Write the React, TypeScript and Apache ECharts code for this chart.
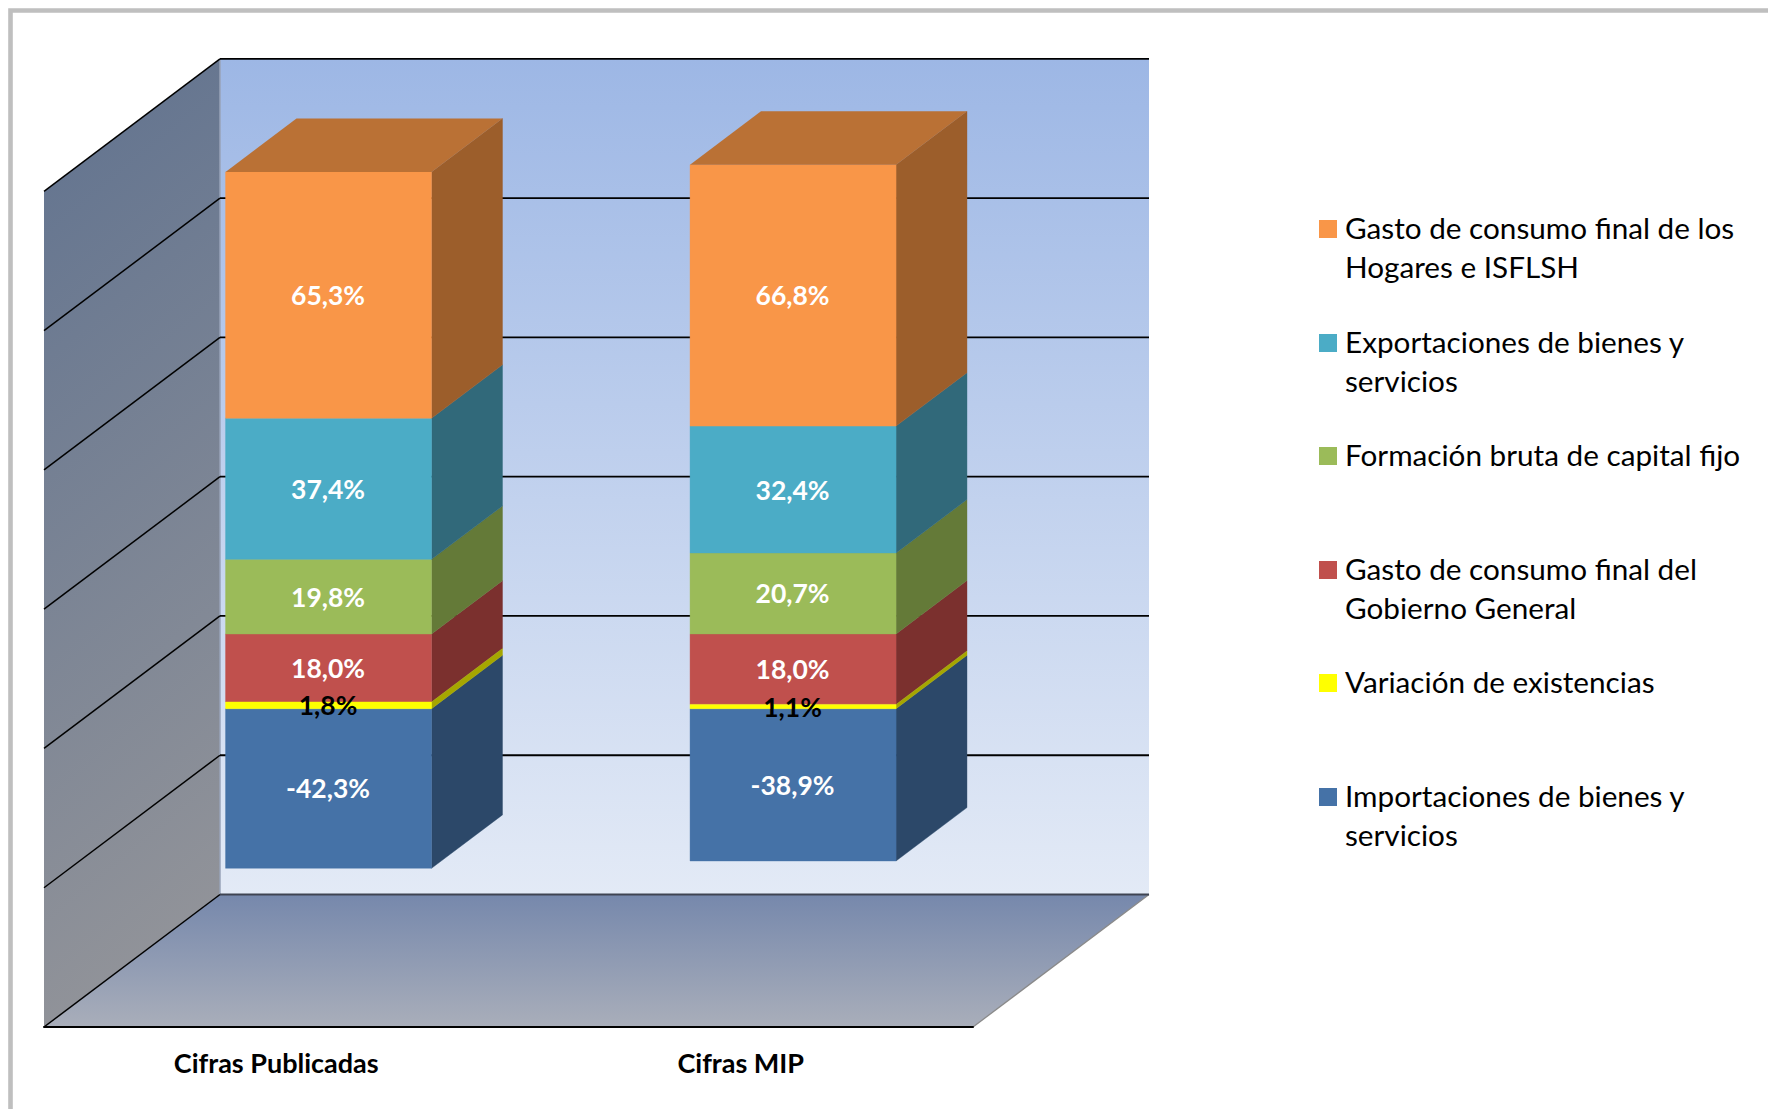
import React, { useEffect, useRef } from "react";
import * as echarts from "echarts";

const categories = ["Cifras Publicadas", "Cifras MIP"];
const yTicks = [-40, -20, 0, 20, 40, 60, 80];

// Stacking order, from the bottom of the bar upward
const stackNames = [
  "Importaciones de bienes y servicios",
  "Variación de existencias",
  "Gasto de consumo final del Gobierno General",
  "Formación bruta de capital fijo",
  "Exportaciones de bienes y servicios",
  "Gasto de consumo final de los Hogares e ISFLSH",
];
const importaciones = [-42.3, -38.9];
const variacion = [1.8, 1.1];
const gobierno = [18.0, 18.0];
const formacion = [19.8, 20.7];
const exportaciones = [37.4, 32.4];
const hogares = [65.3, 66.8];
const stackValues = [importaciones, variacion, gobierno, formacion, exportaciones, hogares];

const frontColors = ["#4572A7", "#FFFF00", "#C0504D", "#9BBB59", "#4BACC6", "#F99648"];
const sideColors = ["#2C4869", "#A6A600", "#7B302E", "#647A38", "#31697A", "#9C5E2B"];
const topColor = "#BA7135";
const labelColors = ["#FFFFFF", "#000000", "#FFFFFF", "#FFFFFF", "#FFFFFF", "#FFFFFF"];

const legendNames = [
  "Gasto de consumo final de los\nHogares e ISFLSH",
  "Exportaciones de bienes y\nservicios",
  "Formación bruta de capital fijo",
  "Gasto de consumo final del\nGobierno General",
  "Variación de existencias",
  "Importaciones de bienes y\nservicios",
];
const legendColors = ["#F99648", "#4BACC6", "#9BBB59", "#C0504D", "#FFFF00", "#4572A7"];
const legendTops = [220, 334, 447, 561, 674, 788];

const DEPTH_X = 176;
const DEPTH_Y = 132.5;
const BAR_RATIO = 0.4435;
const DEPTH_NEAR = 0.3;
const DEPTH_FAR = 0.703;
const FONT = "Lato";

const fmt = (v: number) => v.toFixed(1).replace(".", ",") + "%";

function sceneRender(params: any, api: any) {
  const tick = api.value(0);
  const cs = params.coordSys;
  const y = api.coord([0, tick])[1];
  const xL = cs.x;
  const xR = cs.x + cs.width;
  const yT = cs.y;
  const yB = cs.y + cs.height;
  const children: any[] = [];
  if (params.dataIndex === 0) {
    children.push(
      {
        type: "polygon",
        shape: { points: [[xL + DEPTH_X, yT - DEPTH_Y], [xR + DEPTH_X, yT - DEPTH_Y], [xR + DEPTH_X, yB - DEPTH_Y], [xL + DEPTH_X, yB - DEPTH_Y]] },
        style: { fill: new echarts.graphic.LinearGradient(0, 0, 0, 1, [{ offset: 0, color: "#9DB7E5" }, { offset: 1, color: "#E3EAF6" }]) },
      },
      {
        type: "polygon",
        shape: { points: [[xL, yT], [xL + DEPTH_X, yT - DEPTH_Y], [xL + DEPTH_X, yB - DEPTH_Y], [xL, yB]] },
        style: { fill: new echarts.graphic.LinearGradient(0, 0, 0.15, 1, [{ offset: 0, color: "#60728F" }, { offset: 1, color: "#919399" }]) },
      },
      {
        type: "polygon",
        shape: { points: [[xL, yB], [xR, yB], [xR + DEPTH_X, yB - DEPTH_Y], [xL + DEPTH_X, yB - DEPTH_Y]] },
        style: { fill: new echarts.graphic.LinearGradient(0, 0, 0, 1, [{ offset: 0, color: "#7688AC" }, { offset: 1, color: "#A9AEBA" }]) },
      },
      {
        type: "line",
        shape: { x1: xL + DEPTH_X, y1: yT - DEPTH_Y, x2: xL + DEPTH_X, y2: yB - DEPTH_Y },
        style: { stroke: "#98A3B8", lineWidth: 1.5 },
      },
      {
        type: "line",
        shape: { x1: xR, y1: yB, x2: xR + DEPTH_X, y2: yB - DEPTH_Y },
        style: { stroke: "#8A8A8A", lineWidth: 1.3 },
      }
    );
  }
  const isFloor = tick === yTicks[0];
  children.push(
    {
      type: "line",
      shape: { x1: xL, y1: y, x2: xL + DEPTH_X, y2: y - DEPTH_Y },
      style: { stroke: "#000000", lineWidth: 1.5 },
    },
    {
      type: "line",
      shape: { x1: xL + DEPTH_X, y1: y - DEPTH_Y, x2: xR + DEPTH_X, y2: y - DEPTH_Y },
      style: { stroke: isFloor ? "#3F4452" : "#000000", lineWidth: 1.8 },
    }
  );
  return { type: "group", children };
}

function makeBarRender(idx: number) {
  return function (params: any, api: any) {
    const cat = api.value(0);
    const low = api.value(1);
    const high = api.value(2);
    const raw = api.value(3);
    const catW = api.size([1, 0])[0];
    const w = catW * BAR_RATIO;
    const [cx, y0] = api.coord([cat, low]);
    const [, y1] = api.coord([cat, high]);
    const fx = cx + DEPTH_X * DEPTH_NEAR - 0.5;
    const x1 = fx - w / 2;
    const x2 = fx + w / 2;
    const yb = y0 - DEPTH_Y * DEPTH_NEAR;
    const yt = y1 - DEPTH_Y * DEPTH_NEAR;
    const ddx = DEPTH_X * (DEPTH_FAR - DEPTH_NEAR);
    const ddy = DEPTH_Y * (DEPTH_FAR - DEPTH_NEAR);
    const front = frontColors[idx];
    const side = sideColors[idx];
    const children: any[] = [
      {
        type: "polygon",
        shape: { points: [[x2, yb], [x2, yt], [x2 + ddx, yt - ddy], [x2 + ddx, yb - ddy]] },
        style: { fill: side, stroke: side, lineWidth: 0.4 },
      },
      {
        type: "polygon",
        shape: { points: [[x1, yb], [x2, yb], [x2, yt], [x1, yt]] },
        style: { fill: front, stroke: front, lineWidth: 0.4 },
      },
    ];
    if (idx === stackNames.length - 1) {
      children.push({
        type: "polygon",
        shape: { points: [[x1, yt], [x2, yt], [x2 + ddx, yt - ddy], [x1 + ddx, yt - ddy]] },
        style: { fill: topColor },
      });
    }
    children.push({
      type: "text",
      z2: 50,
      style: {
        text: fmt(raw),
        x: fx - 0.5,
        y: (yb + yt) / 2,
        fill: labelColors[idx],
        font: `bold 26.5px ${FONT}`,
        align: "center",
        verticalAlign: "middle",
      },
    });
    return { type: "group", children };
  };
}

function buildBarData(idx: number) {
  return categories.map((_, c) => {
    const total = stackValues.reduce((s, arr) => s + Math.abs(arr[c]), 0);
    const v = stackValues[idx][c];
    if (v < 0) return [c, (v / total) * 100, 0, v];
    let low = 0;
    for (let i = 0; i < idx; i++) {
      if (stackValues[i][c] > 0) low += (stackValues[i][c] / total) * 100;
    }
    return [c, low, low + (v / total) * 100, v];
  });
}

export default function App() {
  const ref = useRef<HTMLDivElement>(null);
  useEffect(() => {
    const chart = echarts.init(ref.current!, null, { renderer: "svg" });
    const legendGraphics: any[] = [];
    legendNames.forEach((name, i) => {
      legendGraphics.push(
        { type: "rect", shape: { x: 1319, y: legendTops[i], width: 18, height: 18 }, style: { fill: legendColors[i] } },
        {
          type: "text",
          x: 1345,
          y: legendTops[i] + 9 - 19.5 - 2,
          style: { text: name, fill: "#000000", font: `29.7px ${FONT}`, lineHeight: 39, verticalAlign: "top", align: "left" },
        }
      );
    });
    chart.setOption({
      animation: false,
      backgroundColor: "#FFFFFF",
      grid: { left: 44, top: 191.4, width: 929, height: 835.6, containLabel: false },
      xAxis: {
        type: "category",
        data: categories,
        z: 6,
        axisTick: { show: false },
        axisLine: { show: true, onZero: false, lineStyle: { color: "#000000", width: 2 } },
        axisLabel: { color: "#000000", fontFamily: FONT, fontWeight: "bold", fontSize: 27, margin: 22 },
      },
      yAxis: {
        type: "value",
        min: -40,
        max: 80,
        interval: 20,
        axisLabel: { show: false },
        axisLine: { show: false },
        axisTick: { show: false },
        splitLine: { show: false },
      },
      graphic: [
        {
          type: "polyline",
          shape: { points: [[10.5, 1109], [10.5, 10.5], [1768, 10.5]] },
          style: { stroke: "#BFBFBF", lineWidth: 4.6, fill: "none" },
        },
        ...legendGraphics,
      ],
      series: [
        {
          type: "custom",
          name: "scene",
          z: 1,
          silent: true,
          data: yTicks.map((t) => [t]),
          encode: { y: 0 },
          renderItem: sceneRender,
        },
        ...stackNames.map((name, i) => ({
          type: "custom",
          name,
          // the yellow strip goes last so its black label sits above its neighbours
          z: name === "Variación de existencias" ? 20 : 3 + i,
          data: buildBarData(i),
          encode: { x: 0, y: [1, 2] },
          renderItem: makeBarRender(i),
        })),
      ],
    });
    return () => chart.dispose();
  }, []);
  return <div ref={ref} style={{ position: "fixed", left: 0, top: 0, width: 1768, height: 1109 }} />;
}
